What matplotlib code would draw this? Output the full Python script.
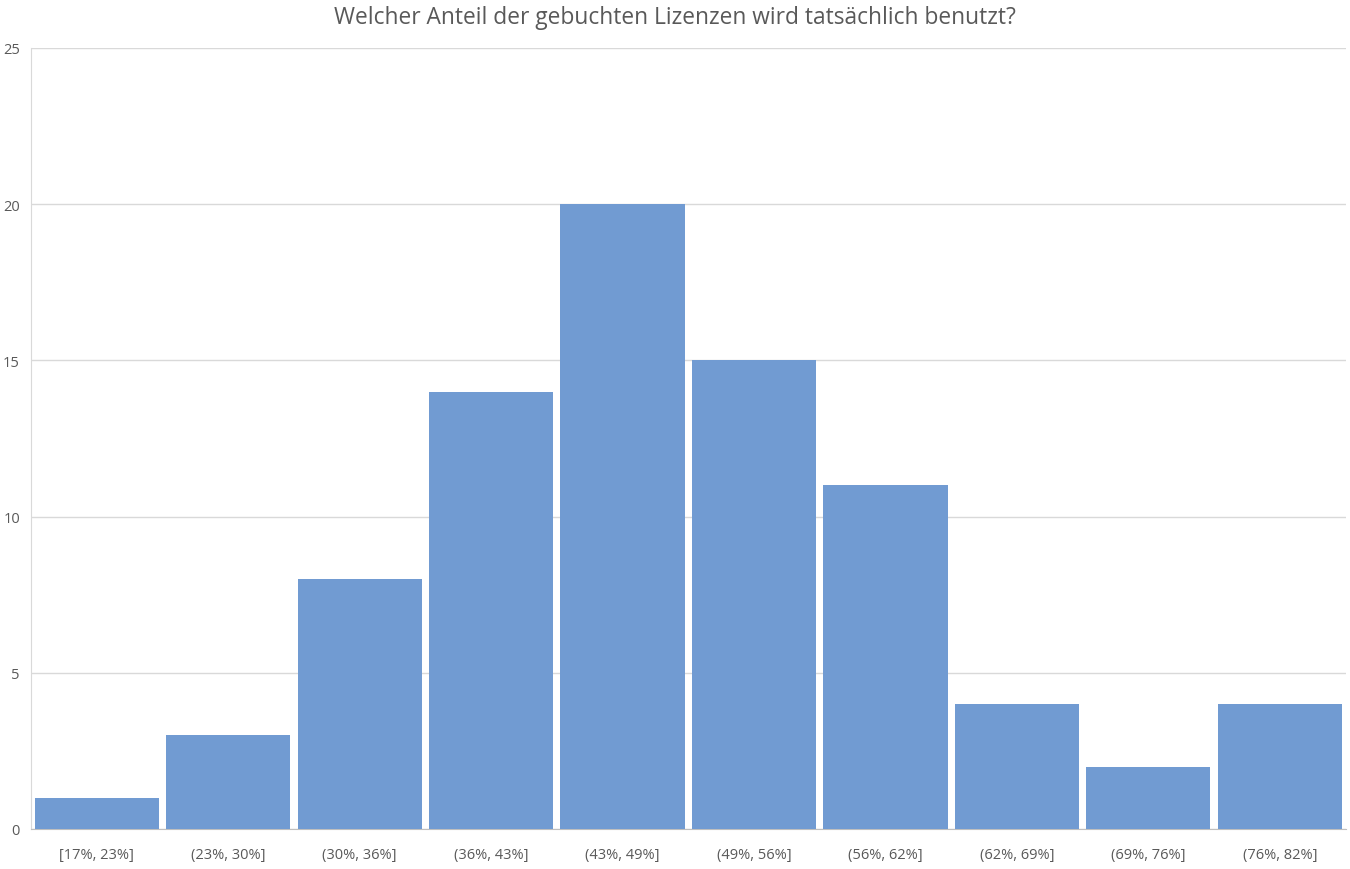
import matplotlib

matplotlib.use("Agg")
import matplotlib.pyplot as plt

BINS = ["[17%, 23%]", "(23%, 30%]", "(30%, 36%]", "(36%, 43%]", "(43%, 49%]",
        "(49%, 56%]", "(56%, 62%]", "(62%, 69%]", "(69%, 76%]", "(76%, 82%]"]
COUNTS = [1, 3, 8, 14, 20, 15, 11, 4, 2, 4]
Y_TICKS = [0, 5, 10, 15, 20, 25]

BAR, TXT, GRID = "#719BD2", "#595959", "#D9D9D9"
plt.rcParams.update({"font.family": ["Open Sans", "DejaVu Sans"]})

fig = plt.figure(figsize=(13.5, 8.7), dpi=100)
ax = fig.add_axes([0.023, 0.046, 0.9737, 0.8977])
x = range(len(BINS))
ax.bar(x, COUNTS, width=0.945, color=BAR, zorder=3)
ax.set_xlim(-0.5, len(BINS) - 0.5)
ax.set_ylim(0, 25)
ax.set_yticks(Y_TICKS)
ax.set_xticks(list(x))
ax.set_xticklabels(BINS)
ax.tick_params(axis="both", length=0, colors=TXT, labelsize=10.5)
ax.tick_params(axis="x", pad=13)
ax.tick_params(axis="y", pad=8)
ax.grid(axis="y", color=GRID, linewidth=1, zorder=0)
for s in ["top", "right"]:
    ax.spines[s].set_visible(False)
ax.spines["left"].set_color(GRID)
ax.spines["bottom"].set_color("#BFBFBF")
# titre centre sur la figure (pas sur les axes), comme dans Excel
fig.suptitle("Welcher Anteil der gebuchten Lizenzen wird tatsächlich benutzt?",
             color=TXT, fontsize=16.4, x=0.5, y=0.979, va="center")
fig.savefig("out.png")
